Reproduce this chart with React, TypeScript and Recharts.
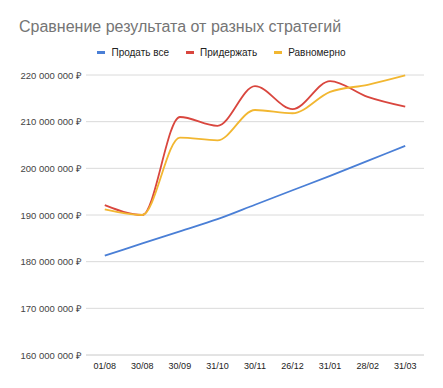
import React from "react";
import { LineChart, Line, XAxis, YAxis, CartesianGrid } from "recharts";

const categories = ["01/08", "30/08", "30/09", "31/10", "30/11", "26/12", "31/01", "28/02", "31/03"];
const sellAll = [181.3, 183.9, 186.5, 189.1, 192.2, 195.3, 198.4, 201.6, 204.8];
const holdBack = [192.1, 190.0, 211.0, 209.1, 217.6, 212.7, 218.7, 215.3, 213.2];
const evenly = [191.2, 190.0, 206.6, 206.0, 212.5, 211.8, 216.4, 217.9, 219.9];
const yTicks = [160, 170, 180, 190, 200, 210, 220];

const seriesNames = ["Продать все", "Придержать", "Равномерно"];
const seriesColors = ["#4a7fd6", "#d9463e", "#f2b731"];
const title = "Сравнение результата от разных стратегий";

const data = categories.map((c, i) => ({
  date: c,
  s0: sellAll[i] * 1e6,
  s1: holdBack[i] * 1e6,
  s2: evenly[i] * 1e6,
}));

const fmt = (v: number) => {
  const s = Math.round(v).toString().replace(/\B(?=(\d{3})+(?!\d))/g, " ");
  return s + " ₽";
};

const FONT = '"Liberation Sans", Arial, sans-serif';

const YTick = (props: any) => {
  const { x, y, payload } = props;
  return (
    <text x={x} y={y} dy={3.5} textAnchor="end" fontSize={9.5} fill="#444" fontFamily={FONT}>
      {fmt(payload.value)}
    </text>
  );
};

const XTick = (props: any) => {
  const { x, y, payload } = props;
  return (
    <text x={x} y={y} dy={8} textAnchor="middle" fontSize={9} fill="#222" fontFamily={FONT}>
      {payload.value}
    </text>
  );
};

export default function App() {
  return (
    <div style={{ position: "absolute", left: 0, top: 0, width: 443, height: 388, background: "#fff", fontFamily: FONT }}>
      <div style={{ position: "absolute", left: 19, top: 18, fontSize: 16, color: "#757575", whiteSpace: "nowrap" }}>{title}</div>
      <div style={{ position: "absolute", left: 0, top: 47, width: 443, display: "flex", justifyContent: "center", fontSize: 10, color: "#222" }}>
        {seriesNames.map((n, i) => (
          <div key={n} style={{ display: "flex", alignItems: "center", marginRight: i < 2 ? 17 : 0 }}>
            <span style={{ display: "inline-block", width: 8, height: 3, background: seriesColors[i], marginRight: 6 }} />
            <span>{n}</span>
          </div>
        ))}
      </div>
      <div style={{ position: "absolute", left: 0, top: 0 }}>
        <LineChart width={443} height={388} data={data} margin={{ top: 75, right: 19, bottom: 0, left: 0 }}>
          <CartesianGrid vertical={false} stroke="#dadada" />
          <XAxis
            dataKey="date"
            scale="band"
            height={33}
            tickLine={false}
            axisLine={{ stroke: "#dadada" }}
            tick={<XTick />}
            interval={0}
            tickSize={6}
            tickMargin={0}
          />
          <YAxis
            width={86}
            domain={[160e6, 220e6]}
            ticks={yTicks.map((t) => t * 1e6)}
            axisLine={false}
            tickLine={false}
            tick={<YTick />}
            tickSize={4}
            tickMargin={0}
          />
          {[0, 1, 2].map((i) => (
            <Line
              key={i}
              dataKey={"s" + i}
              name={seriesNames[i]}
              type="monotone"
              stroke={seriesColors[i]}
              strokeWidth={1.8}
              dot={false}
              isAnimationActive={false}
            />
          ))}
        </LineChart>
      </div>
    </div>
  );
}
